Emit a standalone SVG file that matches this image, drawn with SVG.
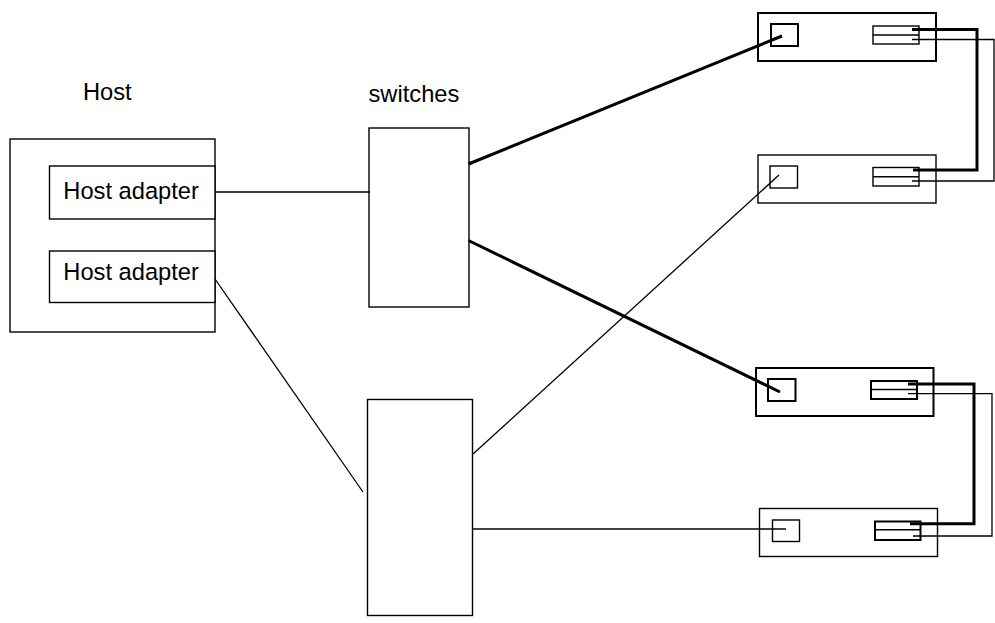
<svg xmlns="http://www.w3.org/2000/svg" width="995" height="623" viewBox="0 0 995 623">
  <style>
    .box { fill: #fff; stroke: #000; stroke-width: 1.4; }
    .bold { fill: #fff; stroke: #000; stroke-width: 2; }
    .thin { fill: none; stroke: #000; stroke-width: 1.3; }
    .thick { fill: none; stroke: #000; stroke-width: 3; }
    .lbl { font-family: "Liberation Sans", Arial, sans-serif; font-size: 23.7px; fill: #000; }
  </style>
  <rect width="995" height="623" fill="#fff"/>

  <!-- host with two adapters -->
  <g id="host">
    <text class="lbl" x="83" y="100">Host</text>
    <rect class="box" x="10" y="139" width="205" height="193"/>
  </g>
  <g id="adapter1">
    <rect class="box" x="49.5" y="166" width="165.5" height="53"/>
    <text class="lbl" x="63.3" y="199">Host adapter</text>
  </g>
  <g id="adapter2">
    <rect class="box" x="49.5" y="251" width="165.5" height="51.5"/>
    <text class="lbl" x="63.3" y="280">Host adapter</text>
  </g>

  <!-- switches -->
  <g id="switch1">
    <text class="lbl" x="368.5" y="101.7">switches</text>
    <rect class="box" x="369" y="128" width="100" height="179"/>
  </g>
  <g id="switch2">
    <rect class="box" x="367.5" y="399.5" width="105" height="216"/>
  </g>

  <!-- storage units -->
  <g id="storage1">
    <rect class="bold" x="758" y="13" width="178" height="48"/>
    <rect class="bold" x="771" y="24" width="27" height="22"/>
    <rect class="box" x="873" y="26" width="46" height="18"/>
    <line class="box" x1="873" y1="35" x2="919" y2="35"/>
  </g>
  <g id="storage2">
    <rect class="box" x="758" y="155" width="178" height="48"/>
    <rect class="box" x="770" y="166" width="27.5" height="22"/>
    <rect class="box" x="873" y="167.5" width="46" height="18.5"/>
    <line class="box" x1="873" y1="176.7" x2="919" y2="176.7"/>
  </g>
  <g id="storage3">
    <rect class="bold" x="756" y="368" width="177.5" height="48"/>
    <rect class="bold" x="768" y="379" width="27.5" height="22"/>
    <rect class="bold" x="871" y="381" width="46" height="18"/>
    <line class="box" x1="871" y1="389.5" x2="917" y2="389.5"/>
  </g>
  <g id="storage4">
    <rect class="box" x="759.5" y="508.5" width="178" height="48"/>
    <rect class="box" x="772.5" y="520" width="27" height="21.5"/>
    <rect class="bold" x="875" y="521.5" width="45.5" height="18.5"/>
    <line class="box" x1="875" y1="529.7" x2="920.5" y2="529.7"/>
  </g>

  <!-- connectors -->
  <g id="connectors">
    <line class="thin" x1="215" y1="192" x2="370" y2="192"/>
    <line class="thin" x1="215" y1="279" x2="363" y2="492"/>
    <line class="thick" x1="468.5" y1="164" x2="782" y2="36"/>
    <line class="thick" x1="468.5" y1="240.5" x2="780" y2="392"/>
    <line class="thin" x1="473" y1="454" x2="779" y2="175"/>
    <line class="thin" x1="473" y1="529" x2="786" y2="529"/>

    <polyline class="thick" points="912,29.5 977,29.5 977,170 913,170"/>
    <polyline class="thin" points="912,39.5 994,39.5 994,181 912,181"/>
    <polyline class="thick" points="908,384 974,384 974,523.7 910,523.7"/>
    <polyline class="thin" points="908,393.7 992,393.7 992,536 913,536"/>
  </g>
</svg>
